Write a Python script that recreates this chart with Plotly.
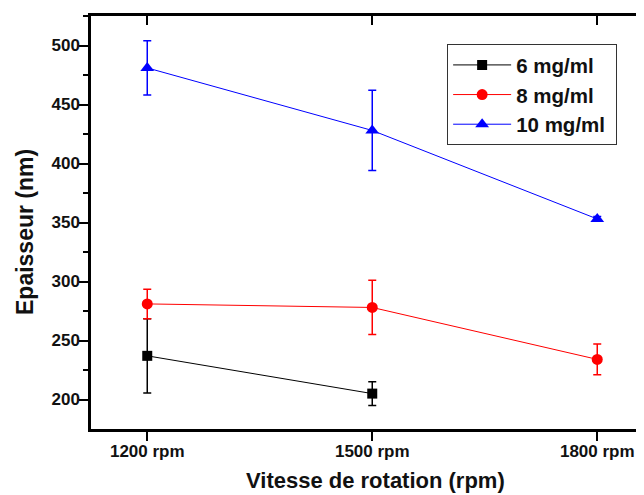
import plotly.graph_objects as go

speeds = [1200, 1500, 1800]
tick_labels = ["1200 rpm", "1500 rpm", "1800 rpm"]

series_names = ["6 mg/ml", "8 mg/ml", "10 mg/ml"]
y_6 = [237, 205]
err_6 = [31.5, 10]
y_8 = [281, 278, 234]
err_8 = [12.5, 23, 13]
y_10 = [481, 428, 353]
err_10 = [23, 34, 2]

colors = ["#000000", "#FF0000", "#0000FF"]
symbols = ["square", "circle", "triangle-up"]
sizes = [10, 11, 12]

FONT = "Liberation Sans, Arial, sans-serif"

fig = go.Figure()
data = [(speeds[:len(y_6)], y_6, err_6), (speeds, y_8, err_8), (speeds, y_10, err_10)]
for (xs, ys, es), name, c, s, sz in zip(data, series_names, colors, symbols, sizes):
    fig.add_trace(go.Scatter(
        x=xs, y=ys, name=name + "\u00a0", mode="lines+markers",
        line=dict(color=c, width=1),
        marker=dict(color=c, symbol=s, size=sz),
        error_y=dict(type="data", array=es, visible=True, color=c, thickness=1.5, width=4),
    ))

# invisible trace for the top/right decorative axes
fig.add_trace(go.Scatter(x=[1500], y=[300], xaxis="x2", yaxis="y2", mode="markers",
                         marker=dict(opacity=0), showlegend=False, hoverinfo="skip"))

x_range = [1125, 1125 + 553 / 0.75]
y_range = [175, 525]

fig.update_layout(
    width=636, height=487,
    margin=dict(l=83, r=0, t=8, b=66, pad=0),
    paper_bgcolor="white", plot_bgcolor="white",
    font=dict(family=FONT, color="#111111", size=17, weight="bold"),
    showlegend=True,
    legend=dict(x=0.644, y=0.932, xanchor="left", yanchor="top",
                bordercolor="#333333", borderwidth=1, bgcolor="white",
                font=dict(size=20.5, family=FONT, weight="bold", color="#111111"),
                tracegroupgap=0, itemwidth=58),
    xaxis=dict(range=x_range, tickvals=speeds, ticktext=tick_labels,
               ticks="outside", ticklen=9, tickwidth=2, tickcolor="black",
               ticklabelstandoff=-4,
               showline=True, linewidth=2.5, linecolor="black", mirror=False,
               showgrid=False, zeroline=False,
               tickfont=dict(size=17, family=FONT, weight="bold")),
    yaxis=dict(range=y_range, tickvals=[200, 250, 300, 350, 400, 450, 500],
               ticks="outside", ticklen=9, tickwidth=2, tickcolor="black",
               ticklabelstandoff=-4,
               minor=dict(ticks="outside", ticklen=5, tickwidth=2, tickcolor="black",
                          tickvals=[225, 275, 325, 375, 425, 475, 525], showgrid=False),
               showline=True, linewidth=2.5, linecolor="black", mirror=False,
               showgrid=False, zeroline=False,
               tickfont=dict(size=17, family=FONT, weight="bold")),
    xaxis2=dict(range=x_range, overlaying="x", side="top", tickvals=speeds,
                showticklabels=False, ticks="inside", ticklen=9, tickwidth=2, tickcolor="black",
                showline=True, linewidth=2.5, linecolor="black", showgrid=False, zeroline=False),
    yaxis2=dict(range=y_range, overlaying="y", side="right",
                tickvals=[200, 250, 300, 350, 400, 450, 500],
                showticklabels=False, ticks="inside", ticklen=2, tickwidth=2, tickcolor="black",
                showline=False, showgrid=False, zeroline=False),
    annotations=[
        dict(text="Vitesse de rotation (rpm)", xref="paper", yref="paper",
             x=(375 - 91) / 553, y=(429 - 480) / 413, xanchor="center", yanchor="middle",
             showarrow=False, font=dict(size=22, family=FONT, weight="bold", color="#111111")),
        dict(text="Epaisseur (nm)", xref="paper", yref="paper", textangle=-90,
             x=(25 - 91) / 553, y=(429 - 232) / 413, xanchor="center", yanchor="middle",
             showarrow=False, font=dict(size=23, family=FONT, weight="bold", color="#111111")),
    ],
)

fig.write_html("out.html")
